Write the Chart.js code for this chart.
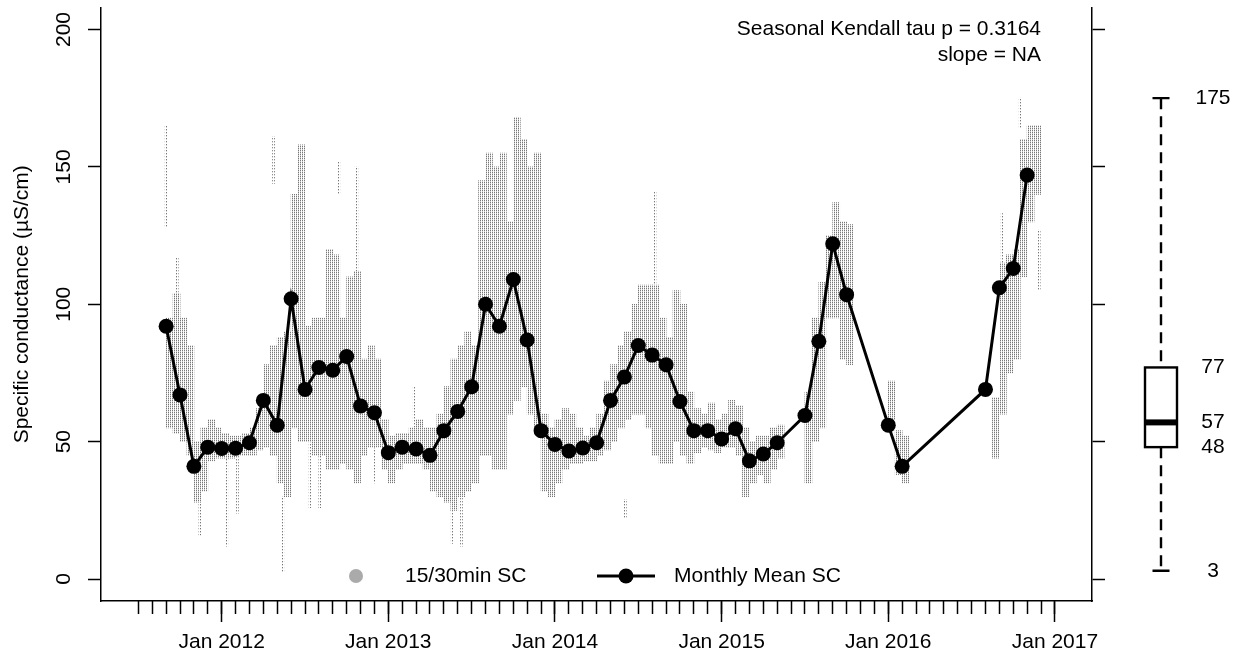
<!DOCTYPE html>
<html>
<head>
<meta charset="utf-8">
<title>Specific conductance</title>
<script src="https://cdn.jsdelivr.net/npm/chart.js@4.4.1/dist/chart.umd.min.js"></script>
<style>
  html, body { margin: 0; padding: 0; background: #fff; }
  #wrap { width: 1240px; height: 655px; }
</style>
</head>
<body>
<div id="wrap"><canvas id="sc" width="1240" height="655"></canvas></div>
<script>
// monthly mean specific conductance (uS/cm)
const meanMonths = [
  '2011-09', '2011-10', '2011-11', '2011-12',
  '2012-01', '2012-02', '2012-03', '2012-04', '2012-05', '2012-06',
  '2012-07', '2012-08', '2012-09', '2012-10', '2012-11', '2012-12',
  '2013-01', '2013-02', '2013-03', '2013-04', '2013-05', '2013-06',
  '2013-07', '2013-08', '2013-09', '2013-10', '2013-11', '2013-12',
  '2014-01', '2014-02', '2014-03', '2014-04', '2014-05', '2014-06',
  '2014-07', '2014-08', '2014-09', '2014-10', '2014-11', '2014-12',
  '2015-01', '2015-02', '2015-03', '2015-04', '2015-05', '2015-07',
  '2015-08', '2015-09', '2015-10', '2016-01', '2016-02',
  '2016-08', '2016-09', '2016-10', '2016-11'
];
const meanValues = [
  92, 67, 41, 48,
  47.5, 47.6, 49.6, 65, 56, 102,
  69, 77, 76, 81, 63, 60.5,
  46, 48, 47.3, 45, 54, 61,
  70, 100, 92, 109, 87, 54,
  49, 46.6, 47.7, 49.6, 65, 73.5,
  85, 81.5, 78, 64.6, 54, 54,
  51, 54.7, 43, 45.5, 49.6, 59.5,
  86.5, 122, 103.5, 56, 41,
  69, 106, 113, 147
];

// 15/30 min readings, bulk range per half month (a = 1st-15th, b = 16th-end)
const binMonths = [
  '2011-09a', '2011-09b', '2011-10a', '2011-10b', '2011-11a', '2011-11b', '2011-12a', '2011-12b',
  '2012-01a', '2012-01b', '2012-02a', '2012-02b', '2012-03a', '2012-03b', '2012-04a', '2012-04b',
  '2012-05a', '2012-05b', '2012-06a', '2012-06b', '2012-07a', '2012-07b', '2012-08a', '2012-08b',
  '2012-09a', '2012-09b', '2012-10a', '2012-10b', '2012-11a', '2012-11b', '2012-12a', '2012-12b',
  '2013-01a', '2013-01b', '2013-02a', '2013-02b', '2013-03a', '2013-03b', '2013-04a', '2013-04b',
  '2013-05a', '2013-05b', '2013-06a', '2013-06b', '2013-07a', '2013-07b', '2013-08a', '2013-08b',
  '2013-09a', '2013-09b', '2013-10a', '2013-10b', '2013-11a', '2013-11b', '2013-12a', '2013-12b',
  '2014-01a', '2014-01b', '2014-02a', '2014-02b', '2014-03a', '2014-03b', '2014-04a', '2014-04b',
  '2014-05a', '2014-05b', '2014-06a', '2014-06b', '2014-07a', '2014-07b', '2014-08a', '2014-08b',
  '2014-09a', '2014-09b', '2014-10a', '2014-10b', '2014-11a', '2014-11b', '2014-12a', '2014-12b',
  '2015-01a', '2015-01b', '2015-02a', '2015-02b', '2015-03a', '2015-03b', '2015-04a', '2015-04b',
  '2015-05a', '2015-07a', '2015-07b', '2015-08a', '2015-08b', '2015-09a', '2015-09b', '2015-10a',
  '2016-01a', '2016-01b', '2016-02a', '2016-08b', '2016-09a', '2016-09b', '2016-10a', '2016-10b',
  '2016-11a', '2016-11b'
];
const binLow = [
  55, 53, 50, 45, 28, 32, 43, 44,
  44, 44, 45, 45, 45, 47, 48, 45,
  35, 30, 55, 50, 50, 45, 45, 40,
  40, 42, 40, 35, 45, 48, 48, 40,
  35, 40, 42, 42, 42, 40, 32, 30,
  28, 25, 30, 32, 35, 45, 45, 40,
  40, 60, 65, 70, 60, 55, 32, 30,
  35, 40, 42, 42, 43, 43, 45, 47,
  50, 55, 58, 60, 60, 55, 45, 42,
  42, 50, 45, 42, 46, 48, 47, 46,
  48, 48, 45, 30, 35, 38, 35, 40,
  44, 35, 50, 55, 95, 95, 80, 78,
  58, 38, 35, 44, 60, 75, 80, 110,
  130, 140
];
const binHigh = [
  95, 104, 95, 85, 50, 55, 58, 55,
  53, 52, 52, 53, 55, 62, 78, 85,
  88, 90, 140, 158, 92, 95, 95, 120,
  118, 95, 110, 112, 80, 85, 80, 58,
  52, 53, 53, 55, 58, 55, 55, 60,
  70, 80, 85, 90, 85, 145, 155, 150,
  155, 130, 168, 160, 150, 155, 60, 55,
  58, 62, 60, 55, 52, 55, 60, 72,
  78, 85, 90, 100, 107, 107, 107, 95,
  88, 105, 100, 68, 62, 60, 64, 58,
  60, 65, 63, 55, 50, 52, 52, 55,
  56, 68, 95, 108, 125, 137, 130, 129,
  72, 54, 52, 66, 115, 118, 120, 160,
  165, 165
];

// isolated readings outside the bulk range
const spikeDays = [
  '2011-09-01', '2011-09-25', '2011-11-14', '2012-01-12', '2012-02-05', '2012-04-23',
  '2012-05-13', '2012-07-12', '2012-08-03', '2012-09-14', '2012-10-23', '2012-12-01',
  '2013-02-27', '2013-05-19', '2013-06-09', '2014-06-03', '2014-08-07', '2016-09-07',
  '2016-10-16', '2016-11-27'
];
const spikeLow = [128, 100, 16, 12, 24, 144, 2.5, 26, 26, 140, 112, 35, 55, 13, 12, 22, 107, 115, 164, 105];
const spikeHigh = [165, 117, 28, 44, 45, 161, 30, 50, 45, 152, 150, 48, 70, 25, 30, 29, 141, 133, 175, 127];

const yTicks = [0, 50, 100, 150, 200];
const yearTicks = [2012, 2013, 2014, 2015, 2016, 2017];
const boxStats = [3, 48, 57, 77, 175]; // min, lower hinge, median, upper hinge, max
const statLines = ['Seasonal Kendall tau p = 0.3164', 'slope = NA'];
const legendNames = ['15/30min SC', 'Monthly Mean SC'];

// x positions are months counted from Jan 2012
function monthIndex(s) {
  const [y, m] = s.split('-').map(Number);
  return (y - 2012) * 12 + (m - 1);
}
function halfMonthIndex(s) {
  return monthIndex(s.slice(0, 7)) + (s.endsWith('a') ? 0.25 : 0.75);
}
function dayIndex(s) {
  const [y, m, d] = s.split('-').map(Number);
  return (y - 2012) * 12 + (m - 1) + (d - 1) / 30;
}

const FONT_FAMILY = "'Liberation Sans', Arial, Helvetica, sans-serif";
const FONT = { family: FONT_FAMILY, size: 21 };
const AXIS_W = 1.5;
Chart.defaults.font.family = FONT_FAMILY;
Chart.defaults.color = '#000';

const canvas = document.getElementById('sc');
const ctx = canvas.getContext('2d');

// tiny grey dots, like pch='.' readings stacked in columns
function dotPattern(w, h) {
  const tile = document.createElement('canvas');
  tile.width = w;
  tile.height = h;
  const g = tile.getContext('2d');
  g.fillStyle = '#777777';
  g.fillRect(0, 0, 1, 1);
  g.fillStyle = '#cfcfcf';
  g.fillRect(0, 1, 1, 1);
  return ctx.createPattern(tile, 'repeat');
}
const denseDots = dotPattern(2, 2);
const sparseDots = dotPattern(2, 3);

const monthTicks = [];
for (let m = -6; m <= 60; m++) monthTicks.push({ value: m });

const overlay = {
  id: 'overlay',
  afterDraw(chart) {
    const { ctx: c, chartArea: area, scales: { y } } = chart;
    c.save();
    c.fillStyle = '#000';
    c.font = '21px ' + FONT_FAMILY;
    c.textBaseline = 'middle';

    // trend statistics, top right of the plot
    c.textAlign = 'right';
    c.fillText(statLines[0], area.right - 51, 29);
    c.fillText(statLines[1], area.right - 51, 55);

    // legend along the bottom of the plot
    const ly = 576;
    c.textAlign = 'left';
    c.fillStyle = '#aaaaaa';
    c.beginPath();
    c.arc(356, ly, 7, 0, Math.PI * 2);
    c.fill();
    c.fillStyle = '#000';
    c.fillText(legendNames[0], 405, ly);
    c.strokeStyle = '#000';
    c.lineWidth = 3;
    c.beginPath();
    c.moveTo(597, ly);
    c.lineTo(655, ly);
    c.stroke();
    c.beginPath();
    c.arc(626, ly, 7.5, 0, Math.PI * 2);
    c.fill();
    c.fillText(legendNames[1], 674, ly);

    // box plot of all readings, right of the plot
    const cx = area.right + 69;
    const half = 16;
    const [lo, q1, med, q3, hi] = boxStats.map(v => y.getPixelForValue(v));
    c.lineWidth = 2.4;
    c.setLineDash([11, 7]);
    c.beginPath();
    c.moveTo(cx, hi); c.lineTo(cx, q3);
    c.moveTo(cx, q1); c.lineTo(cx, lo);
    c.stroke();
    c.setLineDash([]);
    c.beginPath();
    c.moveTo(cx - 8.5, hi); c.lineTo(cx + 8.5, hi);
    c.moveTo(cx - 8.5, lo); c.lineTo(cx + 8.5, lo);
    c.stroke();
    c.fillStyle = '#fff';
    c.fillRect(cx - half, q3, half * 2, q1 - q3);
    c.strokeRect(cx - half, q3, half * 2, q1 - q3);
    c.lineWidth = 6;
    c.beginPath();
    c.moveTo(cx - half, med); c.lineTo(cx + half, med);
    c.stroke();

    c.fillStyle = '#000';
    c.textAlign = 'center';
    boxStats.forEach(v => c.fillText(String(v), cx + 52, y.getPixelForValue(v)));
    c.restore();
  }
};

new Chart(ctx, {
  type: 'line',
  data: {
    datasets: [
      {
        type: 'line',
        label: legendNames[1],
        data: meanMonths.map((m, i) => ({ x: monthIndex(m), y: meanValues[i] })),
        xAxisID: 'x',
        yAxisID: 'y',
        borderColor: '#000',
        borderWidth: 3,
        backgroundColor: '#000',
        pointRadius: 7.5,
        pointHoverRadius: 7.5,
        pointBackgroundColor: '#000',
        pointBorderWidth: 0,
        tension: 0,
        fill: false,
        order: 0
      },
      {
        type: 'bar',
        label: legendNames[0],
        data: binMonths.map((b, i) => ({ x: halfMonthIndex(b), y: [binLow[i], binHigh[i]] })),
        xAxisID: 'x',
        yAxisID: 'y',
        backgroundColor: denseDots,
        borderWidth: 0,
        barThickness: 7,
        grouped: false,
        order: 1
      },
      {
        type: 'bar',
        label: legendNames[0],
        data: spikeDays.map((d, i) => ({ x: dayIndex(d), y: [spikeLow[i], spikeHigh[i]] })),
        xAxisID: 'x',
        yAxisID: 'y',
        backgroundColor: sparseDots,
        borderWidth: 0,
        barThickness: 2,
        grouped: false,
        order: 2
      }
    ]
  },
  options: {
    responsive: false,
    animation: false,
    devicePixelRatio: 1,
    events: [],
    layout: { padding: { top: 6, left: 0, right: 0, bottom: 0 } },
    plugins: { legend: { display: false }, tooltip: { enabled: false } },
    scales: {
      x: {
        type: 'linear',
        position: 'bottom',
        min: -8.69,
        max: 62.67,
        offset: false,
        afterBuildTicks: s => { s.ticks = yearTicks.map(yr => ({ value: (yr - 2012) * 12 })); },
        afterFit: s => { s.height = 54; s.paddingLeft = 0; s.paddingRight = 0; },
        grid: { drawOnChartArea: false, offset: false, tickLength: 21, tickColor: '#000', tickWidth: AXIS_W },
        border: { color: '#000', width: AXIS_W },
        ticks: {
          autoSkip: false,
          maxRotation: 0,
          padding: 8,
          font: FONT,
          color: '#000',
          callback: v => 'Jan ' + (2012 + v / 12)
        }
      },
      xm: {
        type: 'linear',
        axis: 'x',
        position: { y: -8 },
        min: -8.69,
        max: 62.67,
        offset: false,
        afterBuildTicks: s => { s.ticks = monthTicks.slice(); },
        grid: { drawOnChartArea: false, offset: false, tickLength: 13, tickColor: '#000', tickWidth: AXIS_W },
        border: { display: false },
        ticks: { display: false }
      },
      y: {
        type: 'linear',
        position: 'left',
        min: -8,
        max: 208,
        afterBuildTicks: s => { s.ticks = yTicks.map(v => ({ value: v })); },
        afterFit: s => { s.width = 101; s.paddingTop = 0; s.paddingBottom = 0; },
        grid: { drawOnChartArea: false, tickLength: 13, tickColor: '#000', tickWidth: AXIS_W },
        border: { color: '#000', width: AXIS_W },
        ticks: { minRotation: 90, maxRotation: 90, crossAlign: 'center', padding: 6, font: FONT, color: '#000' },
        title: {
          display: true,
          text: 'Specific conductance (\u00b5S/cm)',
          font: FONT,
          color: '#000',
          padding: { top: 10, bottom: 0 }
        }
      },
      y2: {
        type: 'linear',
        axis: 'y',
        position: 'right',
        min: -8,
        max: 208,
        afterBuildTicks: s => { s.ticks = yTicks.map(v => ({ value: v })); },
        afterFit: s => { s.width = 148; s.paddingTop = 0; s.paddingBottom = 0; },
        grid: { drawOnChartArea: false, tickLength: 13, tickColor: '#000', tickWidth: AXIS_W },
        border: { color: '#000', width: AXIS_W },
        ticks: { display: false }
      }
    }
  },
  plugins: [overlay]
});
</script>
</body>
</html>
